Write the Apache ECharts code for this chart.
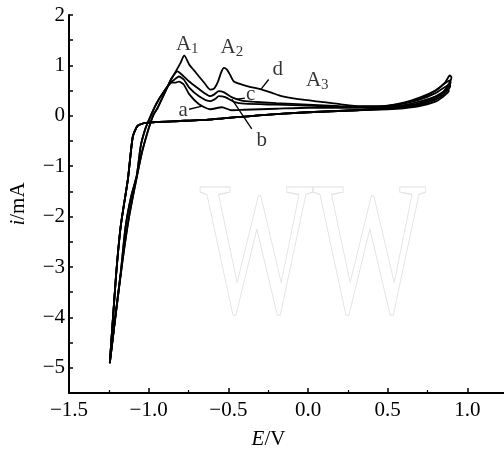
<!DOCTYPE html>
<html>
<head>
<meta charset="utf-8">
<script src="https://cdn.jsdelivr.net/npm/echarts@6.0.0/dist/echarts.min.js"></script>
<style>
  html, body { margin: 0; padding: 0; background: #fff; }
  #chart { width: 504px; height: 455px; }
</style>
</head>
<body>
<div id="chart"></div>
<script>
// return (cathodic) branch, shared by all cycles: from 0.3 V back to the turning point
const returnE = [0.3, 0.0, -0.31, -0.6, -0.85, -1.02, -1.07, -1.10, -1.13, -1.175, -1.206, -1.244];
const returnI = [0.11, 0.07, 0.01, -0.07, -0.11, -0.14, -0.2, -0.42, -1.25, -2.18, -3.22, -4.91];

// anodic rise from the turning point, two nearly overlapping paths
const riseOuterE = [-1.244, -1.205, -1.165, -1.125, -1.08, -1.04, -1.0, -0.97, -0.945, -0.9, -0.86];
const riseOuterI = [-4.91, -3.9, -2.9, -2.04, -1.3, -0.7, -0.25, 0.02, 0.15, 0.45, 0.72];
const riseInnerE = [-1.244, -1.21, -1.175, -1.145, -1.11, -1.075, -1.05, -1.02, -0.99, -0.95, -0.9, -0.86];
const riseInnerI = [-4.91, -4.0, -3.1, -2.2, -1.6, -1.19, -0.6, -0.25, -0.02, 0.25, 0.5, 0.66];

// forward scan after the rise + first part of the reverse scan, one per cycle
const dE = [-0.83, -0.80, -0.785, -0.777, -0.746, -0.715, -0.684, -0.65, -0.615, -0.59, -0.565, -0.545, -0.528, -0.51, -0.49, -0.465, -0.415, -0.36, -0.30, -0.23, -0.166, -0.06, 0.10, 0.2, 0.33, 0.45, 0.55, 0.65, 0.72, 0.8, 0.86, 0.89, 0.9, 0.895, 0.85, 0.8, 0.7, 0.6, 0.5];
const dI = [0.88, 1.05, 1.16, 1.2, 1.02, 0.9, 0.78, 0.65, 0.52, 0.54, 0.68, 0.86, 0.95, 0.92, 0.82, 0.68, 0.62, 0.57, 0.53, 0.46, 0.39, 0.33, 0.27, 0.23, 0.19, 0.19, 0.22, 0.29, 0.36, 0.50, 0.66, 0.80, 0.77, 0.70, 0.48, 0.38, 0.25, 0.19, 0.16];
const cE = [-0.83, -0.82, -0.80, -0.746, -0.684, -0.65, -0.615, -0.59, -0.56, -0.53, -0.48, -0.415, -0.35, -0.2, 0.0, 0.2, 0.4, 0.5, 0.6, 0.7, 0.8, 0.89, 0.895, 0.85, 0.8, 0.7, 0.6, 0.5];
const cI = [0.86, 0.88, 0.84, 0.68, 0.53, 0.45, 0.39, 0.42, 0.49, 0.47, 0.37, 0.30, 0.28, 0.25, 0.22, 0.19, 0.18, 0.2, 0.26, 0.36, 0.5, 0.70, 0.66, 0.46, 0.35, 0.23, 0.18, 0.15];
const bE = [-0.83, -0.81, -0.78, -0.746, -0.684, -0.615, -0.58, -0.56, -0.52, -0.46, -0.4, -0.2, 0.0, 0.2, 0.4, 0.5, 0.6, 0.7, 0.8, 0.89, 0.893, 0.85, 0.8, 0.7, 0.6, 0.5];
const bI = [0.74, 0.78, 0.72, 0.56, 0.39, 0.29, 0.34, 0.39, 0.37, 0.27, 0.24, 0.22, 0.2, 0.18, 0.17, 0.19, 0.24, 0.32, 0.45, 0.62, 0.59, 0.42, 0.32, 0.21, 0.17, 0.14];
const aE = [-0.83, -0.81, -0.78, -0.746, -0.684, -0.615, -0.54, -0.48, -0.4, -0.2, 0.0, 0.2, 0.4, 0.5, 0.6, 0.7, 0.8, 0.88, 0.884, 0.84, 0.8, 0.7, 0.6, 0.5];
const aI = [0.66, 0.68, 0.62, 0.43, 0.23, 0.13, 0.17, 0.11, 0.12, 0.14, 0.16, 0.16, 0.16, 0.17, 0.21, 0.28, 0.38, 0.52, 0.49, 0.36, 0.28, 0.19, 0.15, 0.13];

// axis ticks
const xTicks = [-1.5, -1.0, -0.5, 0.0, 0.5, 1.0];
const xMinorTicks = [-1.25, -0.75, -0.25, 0.25, 0.75];

// labels on the plot
const noteText = ['A{s|1}', 'A{s|2}', 'A{s|3}', 'a', 'b', 'c', 'd'];
const noteE = [-0.758, -0.478, 0.058, -0.783, -0.29, -0.36, -0.19];
const noteI = [1.41, 1.35, 0.70, 0.11, -0.48, 0.43, 0.92];

// leader lines from the letters to the curves
const leaderA = [[-0.746, 0.13], [-0.665, 0.19]];
const leaderB = [[-0.478, 0.33], [-0.353, -0.26]];
const leaderC = [[-0.396, 0.35], [-0.446, 0.33]];
const leaderD = [[-0.247, 0.72], [-0.297, 0.52]];

const serif = '"Liberation Serif", "DejaVu Serif", serif';

function pairs(E, I) { return E.map((e, k) => [e, I[k]]); }
function loop(riseE, riseI, tailE, tailI) {
    return pairs(riseE.concat(tailE, returnE), riseI.concat(tailI, returnI));
}
function minus(s) { return String(s).replace('-', '\u2212'); }

let chart = echarts.init(document.getElementById('chart'));

let curveStyle = { color: '#000', width: 1.8 };
function curve(data) {
    return { type: 'line', data: data, symbol: 'none', smooth: 0.2, lineStyle: curveStyle, silent: true, z: 3 };
}
function leader(data) {
    return { type: 'line', data: data, symbol: 'none', lineStyle: { color: '#000', width: 1.3 }, silent: true, z: 3 };
}

let option = {
    animation: false,
    grid: { left: 66, right: 0, top: 15, bottom: 60 },
    graphic: [{
        type: 'text', x: 313, y: 262, scaleX: 0.63, z: -10, silent: true,
        style: {
            text: 'WW', font: '190px "Liberation Serif"',
            align: 'center', verticalAlign: 'middle', textAlign: 'center', textVerticalAlign: 'middle',
            fill: 'rgba(0,0,0,0)', stroke: '#e2e2e2', lineWidth: 1.2
        }
    }],
    xAxis: [{
        type: 'value', min: -1.5, max: 1.23,
        name: '{it|E}/V', nameLocation: 'middle', nameGap: 36,
        nameTextStyle: {
            fontFamily: serif, fontSize: 21, color: '#000', padding: [0, 36, 0, 0],
            rich: { it: { fontFamily: serif, fontSize: 21, fontStyle: 'italic', color: '#000' } }
        },
        axisLine: { onZero: false, lineStyle: { color: '#000', width: 2 } },
        axisTick: { inside: true, length: 5, customValues: xTicks, lineStyle: { color: '#000', width: 1.5 } },
        axisLabel: {
            margin: 7, fontFamily: serif, fontSize: 21, color: '#000',
            customValues: xTicks, formatter: v => minus(v.toFixed(1))
        },
        splitLine: { show: false }
    }, {
        // second axis on the same line, only for the short minor ticks
        type: 'value', min: -1.5, max: 1.23, position: 'bottom',
        axisLine: { show: false, onZero: false },
        axisTick: { inside: true, length: 3, customValues: xMinorTicks, lineStyle: { color: '#000', width: 1.2 } },
        axisLabel: { show: false },
        splitLine: { show: false }
    }],
    yAxis: {
        type: 'value', min: -5.5, max: 2, interval: 0.5,
        name: '{it|i}/mA', nameLocation: 'middle', nameGap: 40, nameRotate: 90,
        nameTextStyle: {
            fontFamily: serif, fontSize: 21, color: '#000',
            rich: { it: { fontFamily: serif, fontSize: 21, fontStyle: 'italic', color: '#000' } }
        },
        axisLine: { onZero: false, lineStyle: { color: '#000', width: 2 } },
        axisTick: { inside: true, length: 4, lineStyle: { color: '#000', width: 1.5 } },
        axisLabel: {
            margin: 4, fontFamily: serif, fontSize: 21, color: '#000',
            formatter: v => Number.isInteger(v) ? minus(v) : ''
        },
        splitLine: { show: false }
    },
    series: [
        curve(loop(riseInnerE, riseInnerI, aE, aI)),
        curve(loop(riseInnerE, riseInnerI, bE, bI)),
        curve(loop(riseOuterE, riseOuterI, cE, cI)),
        curve(loop(riseOuterE, riseOuterI, dE, dI)),
        leader(leaderA), leader(leaderB), leader(leaderC), leader(leaderD),
        {
            type: 'scatter', data: pairs(noteE, noteI), symbolSize: 0, silent: true, z: 4,
            label: {
                show: true, position: 'inside', color: '#000', fontFamily: serif, fontSize: 21,
                formatter: p => noteText[p.dataIndex],
                rich: { s: { fontFamily: serif, fontSize: 15, color: '#000', padding: [9, 0, 0, 0] } }
            }
        }
    ]
};
chart.setOption(option);
</script>
</body>
</html>
